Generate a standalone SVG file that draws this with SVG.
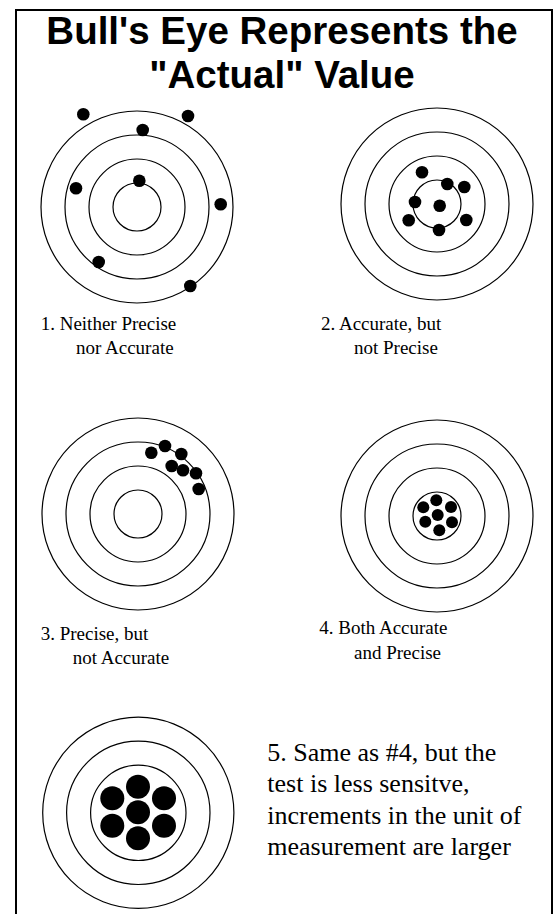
<svg xmlns="http://www.w3.org/2000/svg" width="554" height="914" viewBox="0 0 554 914">
<style>
.ring{fill:none;stroke:#000;stroke-width:1.2}
.dot{fill:#000}
.title{font-family:"Liberation Sans",Arial,sans-serif;font-weight:bold;font-size:38.5px;fill:#000;text-anchor:middle}
.lbl{font-family:"Liberation Serif","Times New Roman",serif;font-size:19px;fill:#000}
.lbl5{font-family:"Liberation Serif","Times New Roman",serif;font-size:26px;fill:#000}
</style>
<rect x="0" y="0" width="554" height="914" fill="#fff"/>
<rect x="16" y="10" width="536" height="930" fill="none" stroke="#000" stroke-width="2"/>
<g id="title">
<text class="title" x="282" y="44">Bull's Eye Represents the</text>
<text class="title" x="282" y="88">"Actual" Value</text>
</g>
<g id="target1">
<circle class="ring" cx="137" cy="207" r="96"/>
<circle class="ring" cx="137" cy="207" r="72"/>
<circle class="ring" cx="137" cy="207" r="48"/>
<circle class="ring" cx="137" cy="207" r="24"/>
<circle class="dot" cx="83.3" cy="114.3" r="6.3"/>
<circle class="dot" cx="188" cy="116" r="6.3"/>
<circle class="dot" cx="142.7" cy="130" r="6.3"/>
<circle class="dot" cx="139.3" cy="180.7" r="6.3"/>
<circle class="dot" cx="76" cy="188.3" r="6.3"/>
<circle class="dot" cx="220.7" cy="204.3" r="6.3"/>
<circle class="dot" cx="98.7" cy="262" r="6.3"/>
<circle class="dot" cx="190.3" cy="286" r="6.3"/>
<text class="lbl" x="40.7" y="330">1. Neither Precise</text>
<text class="lbl" x="76" y="354">nor Accurate</text>
</g>
<g id="target2">
<circle class="ring" cx="437" cy="204" r="96"/>
<circle class="ring" cx="437" cy="204" r="72"/>
<circle class="ring" cx="437" cy="204" r="48"/>
<circle class="ring" cx="437" cy="204" r="24"/>
<circle class="dot" cx="422" cy="172.3" r="6.3"/>
<circle class="dot" cx="447.3" cy="184" r="6.3"/>
<circle class="dot" cx="464.3" cy="187" r="6.3"/>
<circle class="dot" cx="415" cy="202" r="6.3"/>
<circle class="dot" cx="439.7" cy="205.7" r="6.3"/>
<circle class="dot" cx="408.7" cy="220.3" r="6.3"/>
<circle class="dot" cx="466.3" cy="220" r="6.3"/>
<circle class="dot" cx="439" cy="230" r="6.3"/>
<text class="lbl" x="321" y="330">2. Accurate, but</text>
<text class="lbl" x="354" y="354">not Precise</text>
</g>
<g id="target3">
<circle class="ring" cx="138" cy="514" r="96"/>
<circle class="ring" cx="138" cy="514" r="72"/>
<circle class="ring" cx="138" cy="514" r="48"/>
<circle class="ring" cx="138" cy="514" r="24"/>
<circle class="dot" cx="151.3" cy="452.7" r="6.3"/>
<circle class="dot" cx="165" cy="446" r="6.3"/>
<circle class="dot" cx="181.3" cy="454" r="6.3"/>
<circle class="dot" cx="171.7" cy="466" r="6.3"/>
<circle class="dot" cx="183" cy="470.3" r="6.3"/>
<circle class="dot" cx="196" cy="473.3" r="6.3"/>
<circle class="dot" cx="198.7" cy="489" r="6.3"/>
<text class="lbl" x="40.7" y="639.5">3. Precise, but</text>
<text class="lbl" x="72.7" y="664">not Accurate</text>
</g>
<g id="target4">
<circle class="ring" cx="437" cy="516" r="96"/>
<circle class="ring" cx="437" cy="516" r="72"/>
<circle class="ring" cx="437" cy="516" r="48"/>
<circle class="ring" cx="437" cy="516" r="24"/>
<circle class="dot" cx="436.3" cy="500.3" r="6"/>
<circle class="dot" cx="423.3" cy="507.3" r="6"/>
<circle class="dot" cx="451" cy="507" r="6"/>
<circle class="dot" cx="437.7" cy="515" r="6"/>
<circle class="dot" cx="425.3" cy="521.7" r="6"/>
<circle class="dot" cx="452" cy="522.3" r="6"/>
<circle class="dot" cx="439.3" cy="530.3" r="6"/>
<text class="lbl" x="319.3" y="634">4. Both Accurate</text>
<text class="lbl" x="354" y="659">and Precise</text>
</g>
<g id="target5">
<circle class="ring" cx="138.3" cy="812.8" r="95.6"/>
<circle class="ring" cx="138.3" cy="812.8" r="71.7"/>
<circle class="ring" cx="138.3" cy="812.8" r="47.7"/>
<circle class="dot" cx="138" cy="786.7" r="12"/>
<circle class="dot" cx="112.3" cy="798.3" r="12"/>
<circle class="dot" cx="164" cy="798.3" r="12"/>
<circle class="dot" cx="138" cy="812.3" r="12"/>
<circle class="dot" cx="112.3" cy="825.7" r="12"/>
<circle class="dot" cx="164" cy="825.7" r="12"/>
<circle class="dot" cx="138" cy="838.3" r="12"/>
<text class="lbl5" x="267.3" y="761">5. Same as #4, but the</text>
<text class="lbl5" x="267.3" y="792">test is less sensitve,</text>
<text class="lbl5" x="267.3" y="823.5">increments in the unit of</text>
<text class="lbl5" x="267.3" y="855">measurement are larger</text>
</g>
<g id="connectors"></g>
</svg>
